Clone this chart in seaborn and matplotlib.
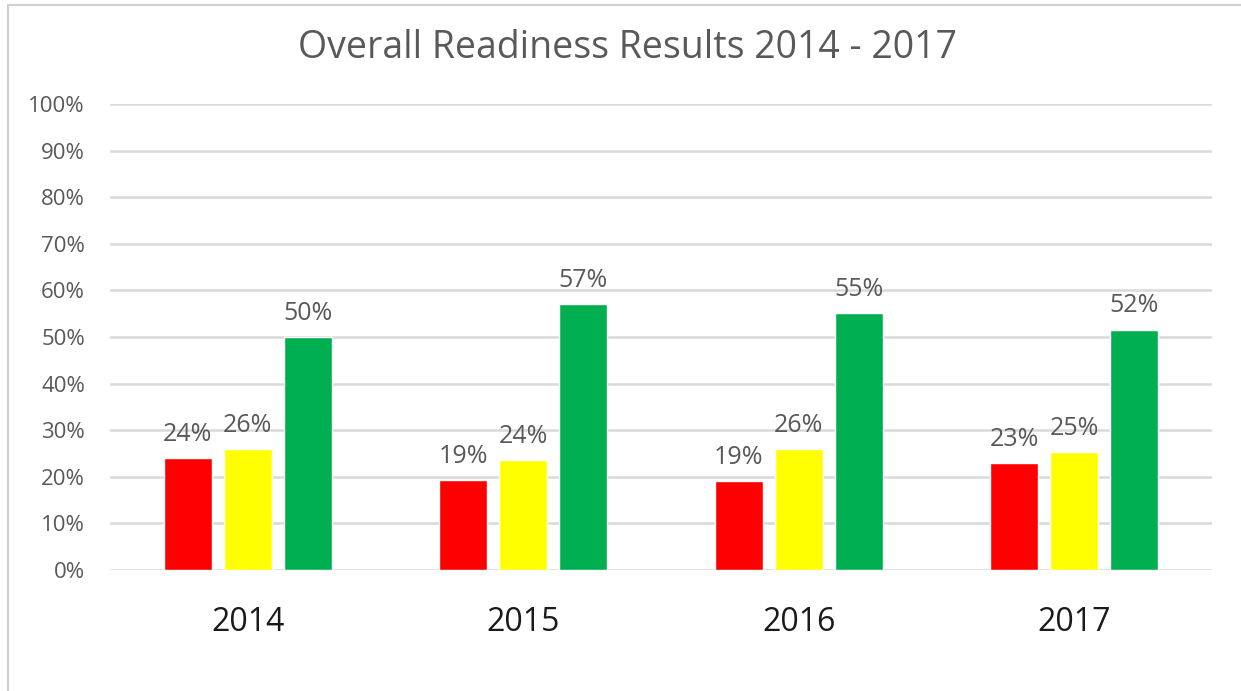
import matplotlib
matplotlib.use("Agg")
import matplotlib.pyplot as plt
import matplotlib.patches as mpatches
from matplotlib.ticker import PercentFormatter
import pandas as pd
import seaborn as sns

# data
years = ["2014", "2015", "2016", "2017"]
levels = ["Not Ready", "Approaching", "Ready"]
not_ready = [24.0, 19.3, 19.1, 22.9]
approaching = [26.0, 23.6, 26.0, 25.4]
ready = [49.9, 57.1, 55.2, 51.6]
level_colors = ["#ff0000", "#ffff00", "#00b050"]

df = pd.DataFrame({
    "year": years * 3,
    "level": [lv for lv in levels for _ in years],
    "value": not_ready + approaching + ready,
})

sns.set_theme(style="white")
plt.rcParams["font.family"] = ["Open Sans", "DejaVu Sans"]

fig = plt.figure(figsize=(12.41, 6.91), dpi=100)
ax = fig.add_axes([110 / 1241, 1 - 570 / 691, 1102 / 1241, 466 / 691])

sns.barplot(data=df, x="year", y="value", hue="level", order=years,
            hue_order=levels, palette=level_colors, width=0.654, gap=0.2,
            saturation=1, legend=False, ax=ax)

for container in ax.containers:
    ax.bar_label(container, labels=[f"{v:.0f}%" for v in container.datavalues],
                 padding=8, fontsize=18, color="#595959")

ax.set_ylim(0, 100)
ax.set_xlim(-0.5, 3.5)
ax.set_yticks(range(0, 101, 10))
ax.yaxis.set_major_formatter(PercentFormatter(decimals=0))
ax.grid(axis="y", color="#d9d9d9", linewidth=1.8)
ax.set_axisbelow(True)
for s in ax.spines.values():
    s.set_visible(False)
ax.tick_params(axis="y", length=0, labelsize=16, labelcolor="#595959", pad=18)
ax.tick_params(axis="x", length=0, labelsize=23, labelcolor="#1a1a1a", pad=26)
ax.set_xlabel("")
ax.set_ylabel("")

fig.text(628 / 1241, 1 - 48 / 691, "Overall Readiness Results 2014 - 2017",
         ha="center", va="center", fontsize=27, color="#595959")

# light frame around the chart area
fig.patches.append(mpatches.Rectangle((8 / 1241, -0.1), 1.2, 1 - 5 / 691 + 0.1,
                                      transform=fig.transFigure, fill=False,
                                      edgecolor="#d0d0d0", linewidth=1.5))

fig.savefig("out.png", dpi=100)
